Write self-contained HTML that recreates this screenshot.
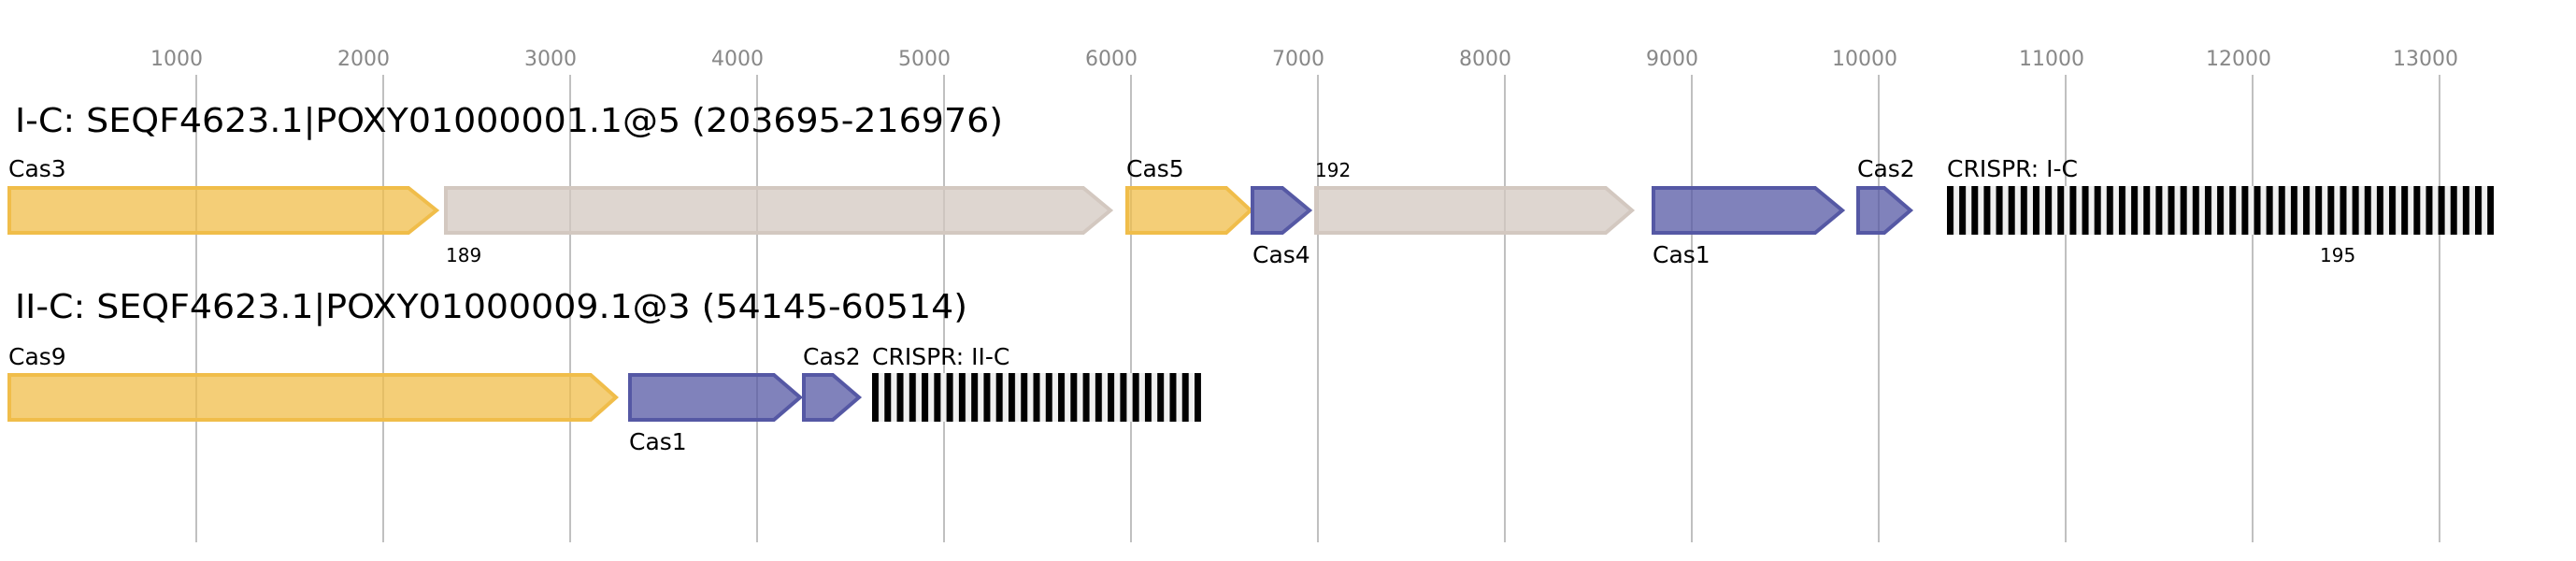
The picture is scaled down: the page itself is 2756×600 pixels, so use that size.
<!DOCTYPE html>
<html><head><meta charset="utf-8"><style>html,body{margin:0;padding:0;background:#fff}svg{display:block}</style></head>
<body>
<svg width="2756" height="600" viewBox="0 0 2756 600" xmlns="http://www.w3.org/2000/svg" font-family="DejaVu Sans, Liberation Sans, sans-serif">
<defs>
<pattern id="cr" x="2083" y="0" width="13.14" height="600" patternUnits="userSpaceOnUse">
<rect width="13.14" height="600" fill="#f0f0f0"/><rect width="7" height="600" fill="#000"/>
</pattern>
<pattern id="cr2" x="933" y="0" width="13.27" height="600" patternUnits="userSpaceOnUse">
<rect width="13.27" height="600" fill="#f0f0f0"/><rect width="7" height="600" fill="#000"/>
</pattern>
</defs>
<g stroke="#c0c0c0" stroke-width="2">
<line x1="210" y1="80" x2="210" y2="580"/><line x1="410" y1="80" x2="410" y2="580"/>
<line x1="610" y1="80" x2="610" y2="580"/><line x1="810" y1="80" x2="810" y2="580"/>
<line x1="1010" y1="80" x2="1010" y2="580"/><line x1="1210" y1="80" x2="1210" y2="580"/>
<line x1="1410" y1="80" x2="1410" y2="580"/><line x1="1610" y1="80" x2="1610" y2="580"/>
<line x1="1810" y1="80" x2="1810" y2="580"/><line x1="2010" y1="80" x2="2010" y2="580"/>
<line x1="2210" y1="80" x2="2210" y2="580"/><line x1="2410" y1="80" x2="2410" y2="580"/>
<line x1="2610" y1="80" x2="2610" y2="580"/>
</g>
<g fill="#888" font-size="22" text-anchor="middle">
<text x="189" y="70">1000</text><text x="389" y="70">2000</text><text x="589" y="70">3000</text>
<text x="789" y="70">4000</text><text x="989" y="70">5000</text><text x="1189" y="70">6000</text>
<text x="1389" y="70">7000</text><text x="1589" y="70">8000</text><text x="1789" y="70">9000</text>
<text x="1995" y="70">10000</text><text x="2195" y="70">11000</text><text x="2395" y="70">12000</text>
<text x="2595" y="70">13000</text>
</g>
<text x="16" y="141" font-size="36" textLength="1057" lengthAdjust="spacingAndGlyphs">I-C: SEQF4623.1|POXY01000001.1@5 (203695-216976)</text>
<text x="16" y="340" font-size="36" textLength="1019" lengthAdjust="spacingAndGlyphs">II-C: SEQF4623.1|POXY01000009.1@3 (54145-60514)</text>
<g stroke-width="4" stroke-linejoin="miter">
<g fill="#f0bd4a" fill-opacity="0.75" stroke="#f0bd4a">
<polygon points="10,201 437,201 467,225 437,249 10,249"/>
<polygon points="1206,201 1312,201 1338,225 1312,249 1206,249"/>
<polygon points="10,401 632,401 659,425 632,449 10,449"/>
</g>
<g fill="#d3c8c0" fill-opacity="0.75" stroke="#d3c8c0">
<polygon points="477,201 1159,201 1188,225 1159,249 477,249"/>
<polygon points="1408,201 1718,201 1746,225 1718,249 1408,249"/>
</g>
<g fill="#5558a4" fill-opacity="0.75" stroke="#5558a4">
<polygon points="1340,201 1372,201 1401,225 1372,249 1340,249"/>
<polygon points="1769,201 1942,201 1971,225 1942,249 1769,249"/>
<polygon points="1988,201 2016,201 2044,225 2016,249 1988,249"/>
<polygon points="674,401 828,401 856,425 828,449 674,449"/>
<polygon points="860,401 891,401 919,425 891,449 860,449"/>
</g>
</g>
<rect x="2083" y="199" width="585" height="52" fill="url(#cr)"/>
<rect x="933" y="399" width="352" height="52" fill="url(#cr2)"/>
<g font-size="25" fill="#000">
<text x="9" y="189">Cas3</text>
<text x="1205" y="189">Cas5</text>
<text x="1340" y="281">Cas4</text>
<text x="1768" y="281">Cas1</text>
<text x="1987" y="189">Cas2</text>
<text x="2083" y="189">CRISPR: I-C</text>
<text x="9" y="390">Cas9</text>
<text x="673" y="481">Cas1</text>
<text x="859" y="390">Cas2</text>
<text x="933" y="390">CRISPR: II-C</text>
</g>
<g font-size="20" fill="#000">
<text x="477" y="280">189</text>
<text x="1407" y="189">192</text>
<text x="2482" y="280">195</text>
</g>
</svg>
</body></html>
